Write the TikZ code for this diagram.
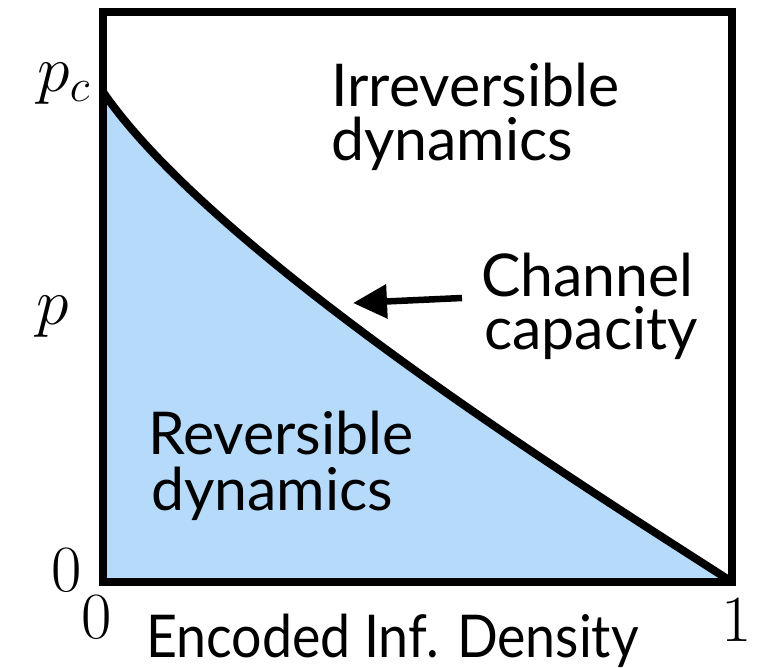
\RequirePackage{fix-cm}
\documentclass[tikz,border=0pt]{standalone}
\usepackage{fontspec}
\newfontfamily\labelfont{Lato}
\usetikzlibrary{arrows.meta}
\definecolor{revblue}{RGB}{182,218,250}
\begin{document}
\begin{tikzpicture}[x=1pt,y=-1pt,
  region/.style={font=\labelfont\fontsize{59}{59}\selectfont, inner sep=0pt, anchor=base west},
  axislabel/.style={font=\fontsize{66}{66}\selectfont, inner sep=0pt},
  frame/.style={line width=8pt},
  boundary/.style={line width=8pt},
  pointer/.style={line width=6.5pt, -{Triangle[length=34pt,width=33pt]}}]
\useasboundingbox (0,0) rectangle (772,668);

% corners of the phase diagram and the end points of the capacity curve
\coordinate (origin) at (103,582);
\coordinate (pc) at (103,92);
\coordinate (one) at (732,582);

% reversible region below the channel capacity
\fill[revblue] (pc) .. controls (220,262) and (615,506) .. (one) -- (origin) -- cycle;
\draw[boundary] (pc) .. controls (220,262) and (615,506) .. (one);

% frame
\draw[frame] (103,12.5) rectangle (732,582);

% axis labels
\node[axislabel, anchor=base east] (pclabel) at (90,92) {$p_c$};
\node[axislabel, anchor=base] (plabel) at (53,325) {$p$};
\node[axislabel] (yzero) at (67,570) {$0$};
\node[axislabel] (xzero) at (97,617) {$0$};
\node[axislabel] (xone) at (737,620) {$1$};
\node[region] (xtitle) at (146,657) {\scalebox{0.91}[1]{Encoded Inf. Density}};

% region labels
\node[region] (irr1) at (331,107) {Irreversible};
\node[region] (irr2) at (331,161) {dynamics};
\node[region] (rev1) at (148,455) {Reversible};
\node[region] (rev2) at (151,511) {dynamics};
\node[region] (cap1) at (481,297) {Channel};
\node[region] (cap2) at (484,350) {capacity};

% pointer to the capacity curve
\coordinate (tail) at (462,298);
\coordinate (tip) at (353,303);
\draw[pointer] (tail) -- (tip);
\end{tikzpicture}
\end{document}
